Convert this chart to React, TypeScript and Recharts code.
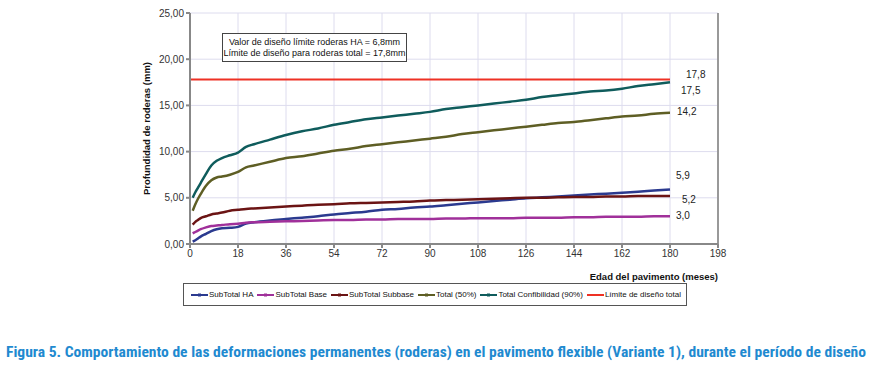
import React from 'react'
import {
  LineChart,
  Line,
  XAxis,
  YAxis,
  CartesianGrid,
  ReferenceLine,
} from 'recharts'

// meses (0 solo para la línea límite)
const months = [
  0, 1, 2, 3, 4, 6, 8, 10, 12, 15, 18, 21, 24, 30, 36, 42, 48, 54, 60, 66, 72, 78, 84, 90, 96, 102,
  108, 114, 120, 126, 132, 138, 144, 150, 156, 162, 168, 174, 180,
]
const subtotalHA = [
  null, 0.25, 0.4, 0.6, 0.8, 1.1, 1.4, 1.6, 1.7, 1.75, 1.85, 2.2, 2.35, 2.55, 2.7, 2.85, 3.0, 3.2, 3.35,
  3.5, 3.7, 3.8, 3.95, 4.05, 4.2, 4.35, 4.5, 4.65, 4.8, 4.95, 5.05, 5.15, 5.25, 5.35, 5.45, 5.55,
  5.65, 5.78, 5.9,
]
const subtotalBase = [
  null, 1.15, 1.3, 1.45, 1.6, 1.8, 1.95, 2.0, 2.05, 2.15, 2.2, 2.3, 2.35, 2.4, 2.45, 2.5, 2.55, 2.6,
  2.6, 2.65, 2.65, 2.7, 2.7, 2.7, 2.75, 2.75, 2.8, 2.8, 2.8, 2.85, 2.85, 2.85, 2.9, 2.9, 2.95, 2.95,
  2.95, 3.0, 3.0,
]
const subtotalSubbase = [
  null, 2.1, 2.4, 2.6, 2.8, 3.0, 3.2, 3.3, 3.4, 3.6, 3.7, 3.8, 3.85, 3.95, 4.05, 4.15, 4.25, 4.3, 4.4,
  4.45, 4.5, 4.55, 4.6, 4.7, 4.75, 4.8, 4.85, 4.9, 4.95, 5.0, 5.0, 5.05, 5.1, 5.1, 5.15, 5.15, 5.2,
  5.2, 5.2,
]
const total50 = [
  null, 3.6, 4.3, 4.9, 5.4, 6.3, 6.9, 7.2, 7.3, 7.5, 7.8, 8.3, 8.5, 8.9, 9.3, 9.5, 9.8, 10.1, 10.3,
  10.6, 10.8, 11.0, 11.2, 11.4, 11.6, 11.9, 12.1, 12.3, 12.5, 12.7, 12.9, 13.1, 13.2, 13.4, 13.6,
  13.8, 13.9, 14.1, 14.2,
]
const total90 = [
  null, 5.0, 5.6, 6.1, 6.6, 7.6, 8.5, 9.0, 9.3, 9.6, 9.9, 10.5, 10.8, 11.3, 11.8, 12.2, 12.5, 12.9,
  13.2, 13.5, 13.7, 13.9, 14.1, 14.3, 14.6, 14.8, 15.0, 15.2, 15.4, 15.6, 15.9, 16.1, 16.3, 16.5,
  16.6, 16.8, 17.1, 17.3, 17.5,
]
const limiteTotal = 17.8

const xTicks = [0, 18, 36, 54, 72, 90, 108, 126, 144, 162, 180, 198]
const yTicks = [0, 5, 10, 15, 20, 25]

const data = months.map((m, i) => ({
  mes: m,
  ha: subtotalHA[i],
  base: subtotalBase[i],
  subbase: subtotalSubbase[i],
  t50: total50[i],
  t90: total90[i],
  lim: limiteTotal,
}))

const series = [
  { key: 'ha', name: 'SubTotal HA', color: '#2b3a8f', dx: 6, dy: -13 },
  { key: 'base', name: 'SubTotal Base', color: '#a0309a', dx: 6, dy: 0 },
  { key: 'subbase', name: 'SubTotal Subbase', color: '#6b1414', dx: 12, dy: 4 },
  { key: 't50', name: 'Total (50%)', color: '#5e5e24', dx: 7, dy: 0 },
  { key: 't90', name: 'Total Confibilidad (90%)', color: '#0f5c5c', dx: 11, dy: 9 },
  { key: 'lim', name: 'Límite de diseño total', color: '#ee3124', dx: 16, dy: -4 },
]

const font = 'Arial, "Liberation Sans", sans-serif'
const fmt = (v: number) => v.toFixed(1).replace('.', ',')

function endLabel(dx: number, dy: number) {
  return (props: any) => {
    const { x, y, value, index } = props
    if (index !== months.length - 1) return null
    return (
      <text
        x={x + dx}
        y={y + dy}
        dominantBaseline="middle"
        fontSize={10}
        fontFamily={font}
        fill="#222"
      >
        {fmt(Number(value))}
      </text>
    )
  }
}

function LegendBox() {
  return (
    <div
      style={{
        position: 'absolute',
        left: 183,
        top: 283,
        width: 504,
        height: 23,
        border: '1px solid #555',
        boxSizing: 'border-box',
        display: 'flex',
        alignItems: 'center',
        justifyContent: 'space-between',
        padding: '0 5px 0 7px',
        fontFamily: font,
        fontSize: 8,
        color: '#111',
        whiteSpace: 'nowrap',
      }}
    >
      {series.map((s) => (
        <span key={s.key} style={{ display: 'flex', alignItems: 'center', flexShrink: 0 }}>
          <svg width={17} height={6} style={{ marginRight: 1 }}>
            <line x1={0} y1={3} x2={17} y2={3} stroke={s.color} strokeWidth={2} />
            {s.key !== 'lim' && <rect x={7} y={1.5} width={3} height={3} fill={s.color} />}
          </svg>
          {s.name}
        </span>
      ))}
    </div>
  )
}

export default function App() {
  return (
    <div style={{ position: 'absolute', left: 0, top: 0, width: 871, height: 365, background: '#fff' }}>
      <LineChart
        width={871}
        height={330}
        data={data}
        margin={{ top: 13, right: 153, left: 140, bottom: 50 }}
      >
        <CartesianGrid stroke="#dddcee" strokeWidth={1} />
        <XAxis
          dataKey="mes"
          type="number"
          domain={[0, 198]}
          ticks={xTicks}
          interval={0}
          height={36}
          tick={{ fontSize: 10, fill: '#333', fontFamily: font }}
          tickSize={4}
          stroke="#888"
          strokeWidth={2}
          label={{
            value: 'Edad del pavimento (meses)',
            position: 'insideBottomRight',
            offset: 0,
            style: { fontSize: 9.5, fontWeight: 'bold', fill: '#111', fontFamily: font },
          }}
        />
        <YAxis
          type="number"
          domain={[0, 25]}
          ticks={yTicks}
          interval={0}
          width={50}
          tick={{ fontSize: 10, fill: '#333', fontFamily: font }}
          tickFormatter={(v: number) => v.toFixed(2).replace('.', ',')}
          tickSize={4}
          stroke="#888"
          strokeWidth={2}
          label={{
            value: 'Profundidad de roderas (mm)',
            angle: -90,
            position: 'insideLeft',
            offset: 0,
            dx: 7,
            style: { fontSize: 9.5, fontWeight: 'bold', fill: '#111', fontFamily: font, textAnchor: 'middle' },
          }}
        />
        <ReferenceLine x={198} stroke="#999" strokeWidth={2} />
        {series.map((s) => (
          <Line
            key={s.key}
            dataKey={s.key}
            name={s.name}
            stroke={s.color}
            strokeWidth={s.key === 'lim' ? 2 : 2.5}
            dot={false}
            type="monotone"
            connectNulls={false}
            isAnimationActive={false}
            label={endLabel(s.dx, s.dy)}
          />
        ))}
      </LineChart>
      <LegendBox />
      <div
        style={{
          position: 'absolute',
          left: 222,
          top: 33,
          width: 185,
          height: 29,
          border: '1px solid #444',
          background: '#fff',
          boxSizing: 'border-box',
          fontFamily: font,
          fontSize: 9,
          lineHeight: '11px',
          textAlign: 'center',
          paddingTop: 3,
          color: '#111',
          whiteSpace: 'nowrap',
        }}
      >
        Valor de diseño límite roderas HA = 6,8mm
        <br />
        Límite de diseño para roderas total = 17,8mm
      </div>
      <svg style={{ position: 'absolute', left: 0, top: 338 }} width={871} height={27}>
        <text
          x={6}
          y={19}
          fontSize={15}
          fontWeight="bold"
          fontFamily='"Liberation Sans Narrow", "Roboto Condensed", "Open Sans", sans-serif'
          fill="#1f8ad0"
          textLength={860}
          lengthAdjust="spacingAndGlyphs"
        >
          Figura 5. Comportamiento de las deformaciones permanentes (roderas) en el pavimento flexible (Variante 1), durante el período de diseño
        </text>
      </svg>
    </div>
  )
}
